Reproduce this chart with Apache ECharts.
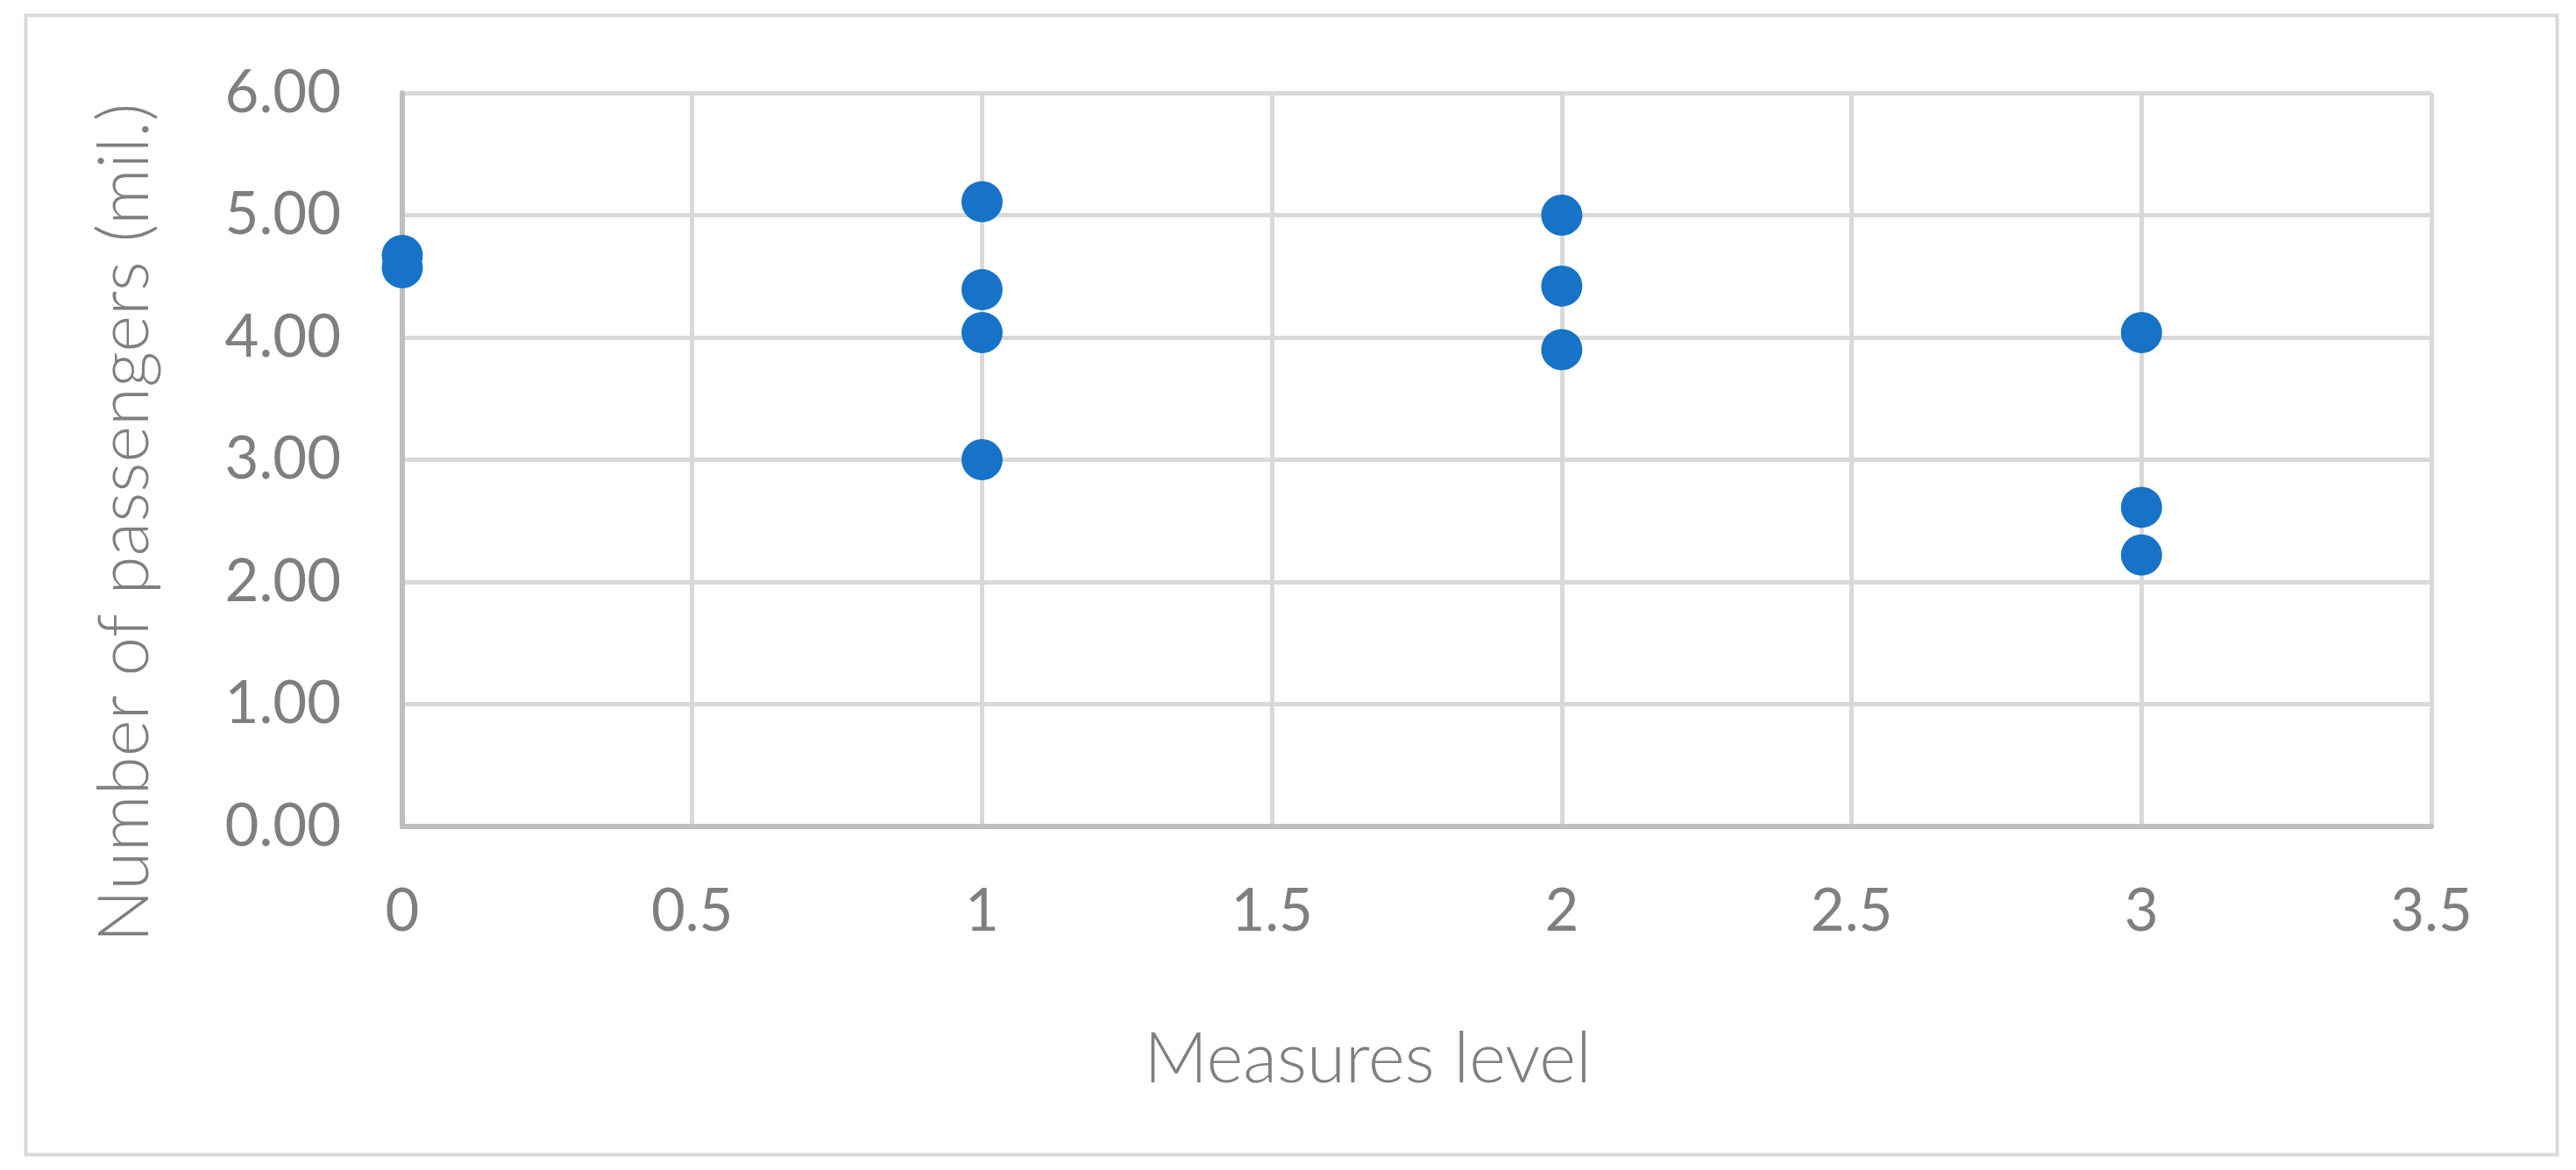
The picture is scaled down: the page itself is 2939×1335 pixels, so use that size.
<!DOCTYPE html>
<html>
<head>
<meta charset="utf-8">
<script src="https://cdn.jsdelivr.net/npm/echarts@6/dist/echarts.min.js"></script>
<style>
  html, body { margin: 0; padding: 0; background: #fff; }
  #chart { width: 2939px; height: 1335px; }
</style>
</head>
<body>
<div id="chart"></div>
<script>
// measures level (x) and passengers in millions (y)
var levels = [0, 0, 1, 1, 1, 1, 2, 2, 2, 3, 3, 3]
var passengers = [4.67, 4.57, 5.11, 4.39, 4.04, 3.00, 5.00, 4.42, 3.90, 4.04, 2.61, 2.22]
var xTicks = [0, 0.5, 1, 1.5, 2, 2.5, 3, 3.5]
var yTicks = [0, 1, 2, 3, 4, 5, 6]

var textColor = '#7F7F7F'
var fontFamily = 'Lato, "Open Sans", sans-serif'

var points = levels.map(function (lv, i) { return [lv, passengers[i]] })

var myChart = echarts.init(document.getElementById('chart'))
var option = {
  backgroundColor: '#fff',
  animation: false,
  graphic: [{
    type: 'rect',
    left: 27,
    top: 15,
    shape: { width: 2888, height: 1300 },
    style: { fill: 'none', stroke: '#D9D9D9', lineWidth: 4 },
    silent: true
  }],
  grid: {
    left: 459,
    right: 165,
    top: 106,
    bottom: 392,
    show: false
  },
  xAxis: {
    type: 'value',
    min: xTicks[0],
    max: xTicks[xTicks.length - 1],
    interval: 0.5,
    name: 'Measures level',
    nameLocation: 'middle',
    nameGap: 226,
    nameTextStyle: {
      color: textColor,
      fontSize: 80,
      fontFamily: fontFamily,
      fontWeight: 300,
      padding: [0, 112, 0, 0]
    },
    axisLine: { show: true, onZero: false, lineStyle: { color: '#BFBFBF', width: 6 } },
    axisTick: { show: false },
    axisLabel: {
      color: textColor,
      fontSize: 67,
      fontFamily: fontFamily,
      margin: 64
    },
    splitLine: { show: true, lineStyle: { color: '#D9D9D9', width: 5 } }
  },
  yAxis: {
    type: 'value',
    min: yTicks[0],
    max: yTicks[yTicks.length - 1],
    interval: 1,
    name: 'Number of passengers (mil.)',
    nameLocation: 'middle',
    nameGap: 276,
    nameTextStyle: {
      color: textColor,
      fontSize: 80,
      fontFamily: fontFamily,
      fontWeight: 300,
      padding: [0, 144, 0, 0]
    },
    axisLine: { show: true, onZero: false, lineStyle: { color: '#BFBFBF', width: 6 } },
    axisTick: { show: false },
    axisLabel: {
      color: textColor,
      fontSize: 67,
      fontFamily: fontFamily,
      margin: 70,
      formatter: function (v) { return v.toFixed(2) }
    },
    splitLine: { show: true, lineStyle: { color: '#D9D9D9', width: 5 } }
  },
  series: [{
    type: 'scatter',
    data: points,
    symbol: 'circle',
    symbolSize: 47,
    itemStyle: { color: '#1773C7', opacity: 1 }
  }]
}
myChart.setOption(option)
</script>
</body>
</html>
